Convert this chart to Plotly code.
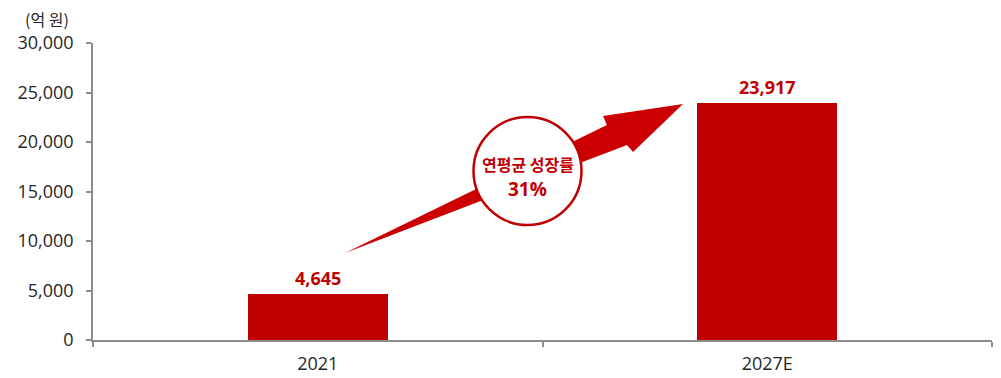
import plotly.graph_objects as go

# Market size (unit: 억 원)
years = ["2021", "2027E"]
market_size = [4645, 23917]
cagr_label = "연평균 성장률"
cagr_value = "31%"
y_ticks = [0, 5000, 10000, 15000, 20000, 25000, 30000]
y_unit = "(억 원)"

BAR_RED = "#C00000"
ARROW_RED = "#CC0000"
TEXT = "#262626"
AXIS = "#8C8C8C"
NUM_FONT = "Open Sans, Noto Sans CJK KR, sans-serif"
KR_FONT = "Noto Sans CJK KR, Open Sans, sans-serif"

W, H = 1001, 378
L, R, T, B = 93, 9, 43, 38
PW, PH = W - L - R, H - T - B


def px(x, y):
    """Pixel position inside the figure -> paper coordinates."""
    return (x - L) / PW, (H - B - y) / PH


fig = go.Figure()
fig.add_trace(go.Bar(
    x=years, y=market_size,
    marker=dict(color=BAR_RED, line=dict(width=0)),
    width=0.312,
    hoverinfo="skip",
))

# Value labels above bars (x given as category index)
for i, v in enumerate(market_size):
    fig.add_annotation(
        x=i, y=v, xref="x", yref="y",
        text=f"<b>{v:,}</b>", showarrow=False,
        xanchor="center", yanchor="bottom", yshift=2,
        font=dict(family=NUM_FONT, size=18, color=BAR_RED),
    )

# Growth arrow
arrow_pts = [(345, 253), (607, 125), (603, 116), (683, 104), (633, 152), (627, 145)]
path = ""
for i, (ax_, ay_) in enumerate(arrow_pts):
    u, v = px(ax_, ay_)
    path += ("M" if i == 0 else "L") + f"{u:.4f},{v:.4f} "
path += "Z"
fig.add_shape(type="path", path=path, xref="paper", yref="paper",
              fillcolor=ARROW_RED, line=dict(width=0), layer="above")

# CAGR badge
cx, cy, r = 527.5, 171, 54
x0, y0 = px(cx - r, cy + r)
x1, y1 = px(cx + r, cy - r)
fig.add_shape(type="circle", xref="paper", yref="paper",
              x0=x0, y0=y0, x1=x1, y1=y1,
              fillcolor="white", line=dict(color=BAR_RED, width=2.5), layer="above")
tx, ty1 = px(cx, 164)
_, ty2 = px(cx, 189)
fig.add_annotation(x=tx, y=ty1, xref="paper", yref="paper", showarrow=False,
                   xanchor="center", yanchor="middle",
                   text=f"<b>{cagr_label}</b>",
                   font=dict(family=KR_FONT, size=16, color=BAR_RED))
fig.add_annotation(x=tx, y=ty2, xref="paper", yref="paper", showarrow=False,
                   xanchor="center", yanchor="middle",
                   text=f"<b>{cagr_value}</b>",
                   font=dict(family=NUM_FONT, size=19, color=BAR_RED))

# Unit label
ux, uy = px(47, 19)
fig.add_annotation(x=ux, y=uy, xref="paper", yref="paper", showarrow=False,
                   xanchor="center", yanchor="middle",
                   text=y_unit, font=dict(family=KR_FONT, size=16, color=TEXT))

fig.update_layout(
    width=W, height=H,
    margin=dict(l=L, r=R, t=T, b=B, pad=0),
    paper_bgcolor="white", plot_bgcolor="white",
    showlegend=False,
    bargap=0,
    font=dict(family=NUM_FONT, size=18, color=TEXT),
)
fig.update_xaxes(
    type="category", range=[-0.5, 1.5], automargin=False,
    showline=True, linecolor=AXIS, linewidth=1.5,
    ticks="outside", tickcolor=AXIS, ticklen=5, tickwidth=1.5,
    tickson="boundaries", showgrid=False,
    ticklabelstandoff=7,
    tickfont=dict(family=NUM_FONT, size=18, color=TEXT),
)
fig.update_yaxes(
    range=[0, 30000], tickvals=y_ticks, automargin=False,
    ticktext=[f"{t:,}" for t in y_ticks],
    showline=True, linecolor=AXIS, linewidth=1.5,
    ticks="outside", tickcolor=AXIS, ticklen=5, tickwidth=1.5,
    showgrid=False, zeroline=False,
    ticklabelstandoff=9,
    tickfont=dict(family=NUM_FONT, size=18, color=TEXT),
)

fig.write_html("out.html")
